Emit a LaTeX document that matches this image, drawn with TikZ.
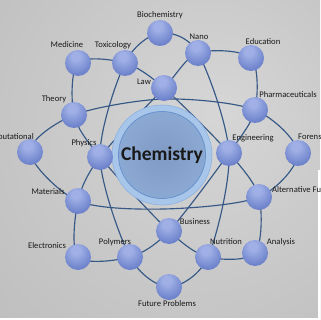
\documentclass[tikz,border=0pt]{standalone}
\usepackage{fontspec}
\setmainfont{Carlito}
\usetikzlibrary{backgrounds}
\definecolor{orbit}{RGB}{54,88,134}
\definecolor{orbhi}{RGB}{160,176,230}
\definecolor{orbmid}{RGB}{104,126,200}
\definecolor{orblo}{RGB}{64,82,154}
\definecolor{corering}{RGB}{168,198,234}
\definecolor{coreedge}{RGB}{104,146,204}
\definecolor{coremid}{RGB}{128,154,196}
\definecolor{corerim}{RGB}{156,190,234}
\definecolor{backlight}{RGB}{214,214,214}
\definecolor{backdark}{RGB}{150,150,150}
\pgfdeclareradialshading{orb}{\pgfpoint{-5bp}{15bp}}{color(0bp)=(orbhi); color(8bp)=(orbhi); color(32bp)=(orbmid); color(50bp)=(orblo); color(60bp)=(orblo)}
\pgfdeclareradialshading{core}{\pgfpoint{0bp}{0bp}}{color(0bp)=(coremid); color(30bp)=(coremid!50!corerim); color(50bp)=(corerim); color(60bp)=(corerim)}
\pgfdeclareradialshading{backdrop}{\pgfpoint{10bp}{8bp}}{color(0bp)=(backlight); color(40bp)=(backlight!65!backdark); color(75bp)=(backdark)}
\begin{document}
\begin{tikzpicture}[x=1pt,y=-1pt]
	\tikzset{atom_ball/.style={circle, inner sep=0pt, minimum size=26pt, shading=orb},
		atom_tag/.style={inner sep=0pt, text=black!90, font=\fontsize{8.6}{10}\selectfont},
		orbit_line/.style={draw=orbit, line width=1.15pt}}
	\useasboundingbox (0,0) rectangle (320,320);
	\clip (0,0) rectangle (320,320);
	% nucleus
	\node[circle, fill=corering, draw=corerim!70!coreedge, line width=0.6pt, minimum size=100pt, inner sep=0pt] (chem_ring) at (162,155) {};
	\node[circle, shading=core, draw=coreedge, line width=0.8pt, minimum size=87pt, inner sep=0pt, text=black!90, font=\fontsize{19.5}{22}\selectfont\bfseries] (chemistry) at (162,155) {Chemistry};
	% electrons
	\node[atom_ball] (biochemistry) at (160,33) {};
	\node[atom_ball] (nano) at (198,53) {};
	\node[atom_ball] (education) at (251,58) {};
	\node[atom_ball] (toxicology) at (125,63) {};
	\node[atom_ball] (medicine) at (78,63) {};
	\node[atom_ball] (law) at (164,88) {};
	\node[atom_ball] (theory) at (74,115) {};
	\node[atom_ball] (pharmaceuticals) at (255,110) {};
	\node[atom_ball] (computational) at (30,152) {};
	\node[atom_ball] (physics) at (100,157) {};
	\node[atom_ball] (engineering) at (229,153) {};
	\node[atom_ball] (forensics) at (298,153) {};
	\node[atom_ball] (materials) at (78,201) {};
	\node[atom_ball] (alt_fuels) at (259,197) {};
	\node[atom_ball] (business) at (169,231) {};
	\node[atom_ball] (electronics) at (78,257) {};
	\node[atom_ball] (polymers) at (130,257) {};
	\node[atom_ball] (nutrition) at (208,257) {};
	\node[atom_ball] (analysis) at (255,253) {};
	\node[atom_ball] (future_problems) at (169,287) {};
	\coordinate (h_top) at (164,99);
	\coordinate (h_bottom) at (164,209);
	% labels
	\node[atom_tag] (biochemistry_tag) at (160,15) {Biochemistry};
	\node[atom_tag] (nano_tag) at (199,37) {Nano};
	\node[atom_tag] (education_tag) at (263,42) {Education};
	\node[atom_tag] (toxicology_tag) at (113,45) {Toxicology};
	\node[atom_tag] (medicine_tag) at (67,45) {Medicine};
	\node[atom_tag] (law_tag) at (144,82) {Law};
	\node[atom_tag] (theory_tag) at (54,99) {Theory};
	\node[atom_tag] (pharmaceuticals_tag) at (288,95) {Pharmaceuticals};
	\node[atom_tag, anchor=east] (computational_tag) at (34,137) {Computational};
	\node[atom_tag] (physics_tag) at (84,143) {Physics};
	\node[atom_tag] (engineering_tag) at (253,138) {Engineering};
	\node[atom_tag, anchor=west] (forensics_tag) at (298,137) {Forensics};
	\node[atom_tag] (materials_tag) at (48,192) {Materials};
	\node[atom_tag, anchor=west] (alt_fuels_tag) at (272,190) {Alternative Fuels};
	\node[atom_tag] (business_tag) at (195,222) {Business};
	\node[atom_tag] (electronics_tag) at (47,246) {Electronics};
	\node[atom_tag] (polymers_tag) at (115,242) {Polymers};
	\node[atom_tag] (nutrition_tag) at (226,242) {Nutrition};
	\node[atom_tag] (analysis_tag) at (281,242) {Analysis};
	\node[atom_tag] (future_problems_tag) at (167,304) {Future Problems};
	% orbits, behind everything
	\begin{scope}[on background layer]
	\fill[shading=backdrop] (0,0) rectangle (320,320);
	\draw[white, line width=1.6pt] (319.2,170) -- (319.2,320);
	\draw[white, line width=1.6pt] (0,319.2) -- (320,319.2);
	\draw[orbit_line] plot[smooth cycle] coordinates {(computational.center) (theory.center) (h_top) (pharmaceuticals.center) (forensics.center) (alt_fuels.center) (h_bottom) (materials.center)};
	\draw[orbit_line] plot[smooth cycle] coordinates {(biochemistry.center) (nano.center) (engineering.center) (nutrition.center) (future_problems.center) (polymers.center) (physics.center) (toxicology.center)};
	\draw[orbit_line] plot[smooth cycle] coordinates {(medicine.center) (toxicology.center) (law.center) (engineering.center) (alt_fuels.center) (analysis.center) (nutrition.center) (business.center) (physics.center) (theory.center)};
	\draw[orbit_line] plot[smooth cycle] coordinates {(education.center) (pharmaceuticals.center) (engineering.center) (business.center) (polymers.center) (electronics.center) (materials.center) (physics.center) (law.center) (nano.center)};
	\end{scope}
\end{tikzpicture}
\end{document}
